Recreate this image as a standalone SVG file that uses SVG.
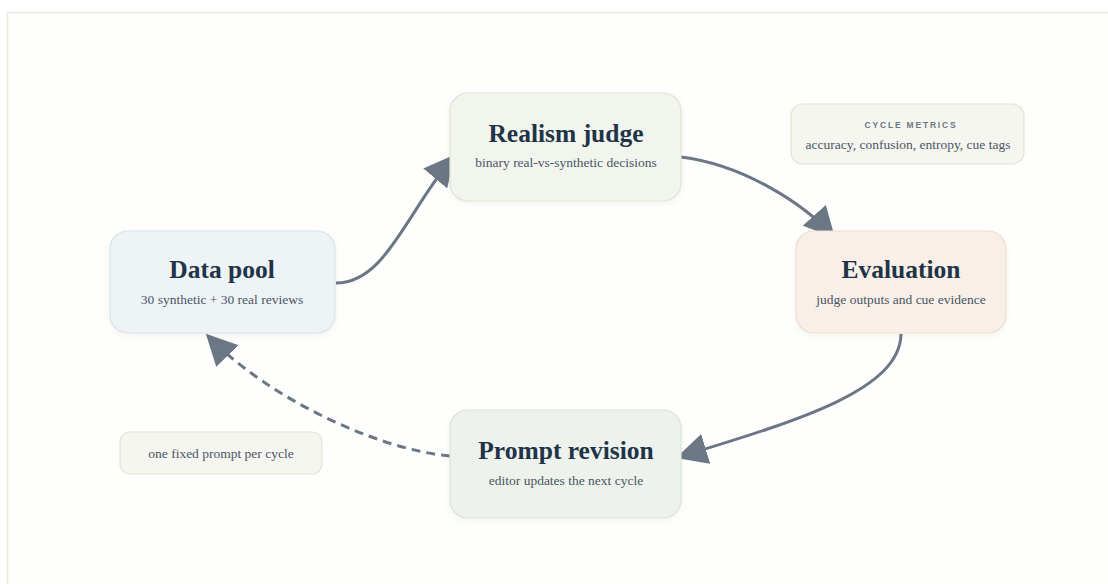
<svg xmlns="http://www.w3.org/2000/svg" width="1108" height="584" viewBox="0 0 1108 584">
<defs>
<style>
.frame{fill:#fefefd;stroke:#ebe8da;stroke-width:1.5}
.node{stroke-width:1.2;filter:url(#sh)}
.title{font-family:"Liberation Serif","Times New Roman",serif;font-weight:bold;font-size:25.5px;fill:#1f3447;text-anchor:middle}
.sub{font-family:"Liberation Serif","Times New Roman",serif;font-size:13.5px;fill:#4a5565;text-anchor:middle}
.cap{font-family:"Liberation Sans",Arial,sans-serif;font-weight:bold;font-size:8.5px;letter-spacing:1.8px;fill:#6b7785;text-anchor:middle}
.note{fill:#f6f6f1;stroke:#e4e1d4;stroke-width:1.2}
.conn{fill:none;stroke:#6b7785;stroke-width:3}
.dash{stroke-dasharray:9 6}
</style>
<filter id="sh" x="-10%" y="-10%" width="120%" height="130%">
<feDropShadow dx="0" dy="2" stdDeviation="3" flood-color="#000" flood-opacity="0.05"/>
</filter>
<marker id="ah" viewBox="0 0 10 10" refX="9" refY="5" markerWidth="31" markerHeight="31" markerUnits="userSpaceOnUse" orient="auto">
<path d="M0,0 L10,5 L0,10 z" fill="#6b7785"/>
</marker>
</defs>
<rect class="frame" x="7.5" y="12.5" width="1120" height="600"/>
<g id="connectors">
<path class="conn" d="M336,283 C385,283 405,215 453,157" marker-end="url(#ah)"/>
<path class="conn" d="M681,157 C745,165 805,205 833,236" marker-end="url(#ah)"/>
<path class="conn" d="M901,334 C900,390 800,420 679,457" marker-end="url(#ah)"/>
<path class="conn dash" d="M450,456 C380,450 270,400 208,336" marker-end="url(#ah)"/>
</g>
<g id="realism-judge">
<rect class="node" x="450" y="93" width="231" height="108" rx="18" fill="#f2f5ee" stroke="#dfe4d4"/>
<text class="title" x="566" y="142">Realism judge</text>
<text class="sub" x="566" y="167">binary real-vs-synthetic decisions</text>
</g>
<g id="data-pool">
<rect class="node" x="110" y="231" width="225" height="102" rx="18" fill="#eef3f6" stroke="#dae3ea"/>
<text class="title" x="222" y="278">Data pool</text>
<text class="sub" x="222" y="304">30 synthetic + 30 real reviews</text>
</g>
<g id="evaluation">
<rect class="node" x="796" y="231" width="210" height="102" rx="18" fill="#f8f0e8" stroke="#eedfcc"/>
<text class="title" x="901" y="278">Evaluation</text>
<text class="sub" x="901" y="304">judge outputs and cue evidence</text>
</g>
<g id="prompt-revision">
<rect class="node" x="450" y="410" width="231" height="108" rx="18" fill="#edf3ec" stroke="#d8e6d6"/>
<text class="title" x="566" y="459">Prompt revision</text>
<text class="sub" x="566" y="485">editor updates the next cycle</text>
</g>
<g id="cycle-metrics">
<rect class="note" x="791" y="104" width="233" height="60" rx="12"/>
<text class="cap" x="911" y="128">CYCLE METRICS</text>
<text class="sub" x="908" y="149">accuracy, confusion, entropy, cue tags</text>
</g>
<g id="fixed-prompt-note">
<rect class="note" x="120" y="432" width="202" height="42" rx="10"/>
<text class="sub" x="221" y="458">one fixed prompt per cycle</text>
</g>
</svg>
